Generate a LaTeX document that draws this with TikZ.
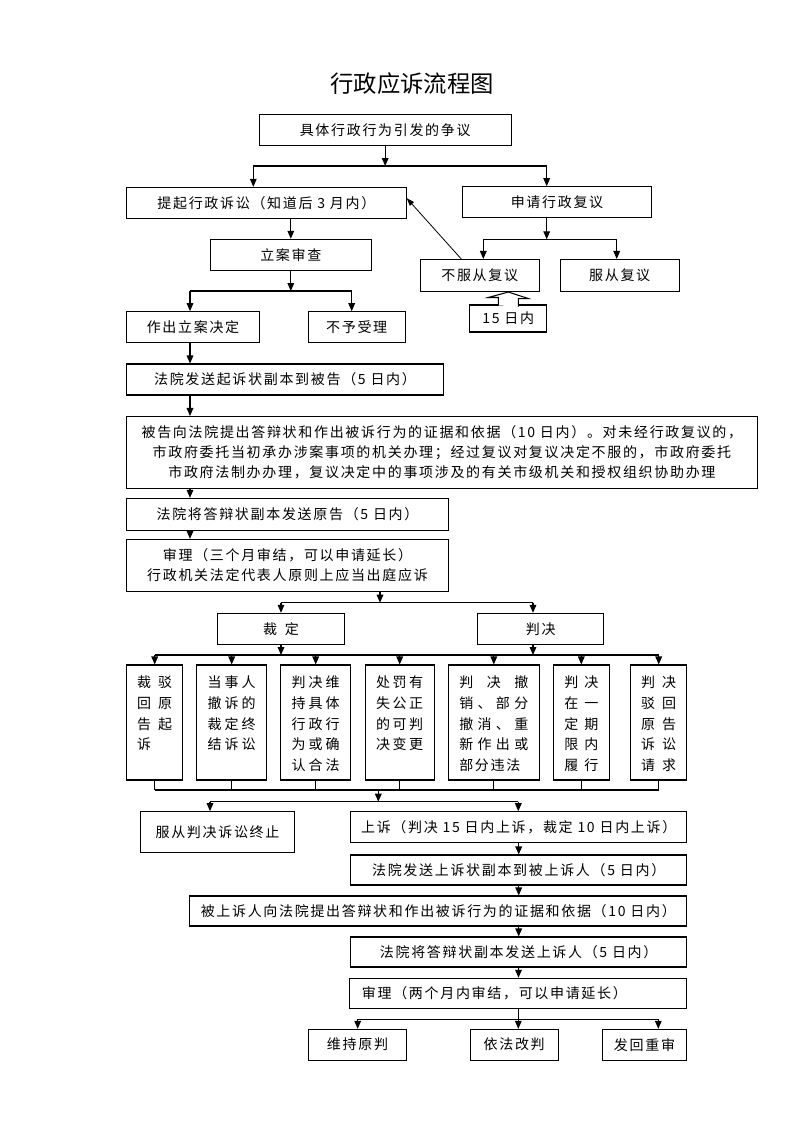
\documentclass[tikz,border=0pt]{standalone}
\usepackage{fontspec}
\usepackage{xcolor}
\setmainfont{Noto Sans CJK SC}[LetterSpace=12]
\newfontfamily\titlefont{Noto Sans CJK SC}
\usetikzlibrary{arrows.meta}

\begin{document}
\begin{tikzpicture}[x=0.75pt, y=-0.75pt,
  box/.style={draw, line width=0.8pt, inner sep=0pt, align=center, font=\fontsize{10.5pt}{15pt}\selectfont},
  sz/.style 2 args={minimum width=#1*0.75pt, minimum height=#2*0.75pt},
  tallbox/.style={draw, line width=0.8pt, inner sep=0pt, minimum height=115*0.75pt},
  talltext/.style={anchor=north, inner sep=0pt, align=left, font=\fontsize{10.5pt}{15.5pt}\selectfont},
  ln/.style={line width=0.8pt},
  arr/.style={line width=0.8pt, -{Triangle[length=6pt,width=5pt]}}]
\useasboundingbox (0,0) rectangle (793,1122);
\node[font=\titlefont\fontsize{17.5pt}{18pt}\selectfont] (title) at (412,84) {行政应诉流程图};

\node[box, sz={251.7}{30.7}] (A) at (385.2,129.7) {具体行政行为引发的争议};
\node[box, sz={279.3}{30.7}] (B) at (266.4,202.7) {提起行政诉讼（知道后 3 月内）};
\node[box, sz={189.4}{31}] (C) at (557,202.2) {申请行政复议};
\node[box, sz={160.5}{31.4}] (D) at (290.8,255) {立案审查};
\node[box, sz={119.3}{32}] (E) at (479.7,275.5) {不服从复议};
\node[box, sz={119.3}{32}] (F) at (619.7,275.5) {服从复议};
\node[box, sz={76.7}{27}] (G) at (508.3,318.5) {15 日内};
\node[box, sz={132.6}{31}] (H) at (193,327.2) {作出立案决定};
\node[box, sz={96.7}{31}] (I) at (356.7,327.2) {不予受理};
\node[box, sz={316.6}{31}] (J) at (285,379.5) {法院发送起诉状副本到被告（5 日内）};
\node[box, sz={630.3}{71.8}] (K) at (441.9,452.4) {被告向法院提出答辩状和作出被诉行为的证据和依据（10 日内）。对未经行政复议的，\\市政府委托当初承办涉案事项的机关办理；经过复议对复议决定不服的，市政府委托\\市政府法制办办理，复议决定中的事项涉及的有关市级机关和授权组织协助办理};
\node[box, sz={321.6}{31.7}] (L) at (287.5,514.2) {法院将答辩状副本发送原告（5 日内）};
\node[box, sz={321.6}{51.7}] (M) at (287.5,565.2) {审理（三个月审结，可以申请延长）\\行政机关法定代表人原则上应当出庭应诉};
\node[box, sz={127.8}{31}] (N) at (281,628.8) {裁\hspace{6pt}定};
\node[box, sz={125.9}{31}] (O) at (540.8,628.8) {判决};

\coordinate (jB) at (253.3,166);
\coordinate (jC) at (546.7,166);
\coordinate (jE) at (483.3,239.3);
\coordinate (jF) at (616.7,239.3);
\coordinate (jH) at (190,291);
\coordinate (jI) at (351.7,291);
\coordinate (jM) at (380,602.7);
\coordinate (jN) at (281,602.7);
\coordinate (jO) at (533,602.7);
\coordinate (j5) at (0,655);
\coordinate (j6) at (0,790);
\coordinate (jS) at (378.3,790);
\coordinate (jQ) at (210,801.7);
\coordinate (jR) at (518.3,801.7);
\coordinate (jW) at (357.7,1019.3);
\coordinate (jY) at (658.3,1019.3);

\foreach \n/\x/\w/\t/\txt in {
  p1/154.7/56/35/{裁\hfill 驳\\回\hfill 原\\告\hfill 起\\诉},
  p2/231.7/70/48/{当\hfill 事\hfill 人\\撤\hfill 诉\hfill 的\\裁\hfill 定\hfill 终\\结\hfill 诉\hfill 讼},
  p3/315.7/70/48/{判\hfill 决\hfill 维\\持\hfill 具\hfill 体\\行\hfill 政\hfill 行\\为\hfill 或\hfill 确\\认\hfill 合\hfill 法},
  p4/399.7/69.3/47/{处\hfill 罚\hfill 有\\失\hfill 公\hfill 正\\的\hfill 可\hfill 判\\决\hfill 变\hfill 更},
  p5/493.8/91/69/{判\hfill 决\hfill 撤\\销\hfill 、\hfill 部\hfill 分\\撤\hfill 消\hfill 、\hfill 重\\新\hfill 作\hfill 出\hfill 或\\部分违法},
  p6/581.3/56/34/{判\hfill 决\\在\hfill 一\\定\hfill 期\\限\hfill 内\\履\hfill 行},
  p7/658.7/56/35/{判\hfill 决\\驳\hfill 回\\原\hfill 告\\诉\hfill 讼\\请\hfill 求}}
{
  \node[tallbox, minimum width=\w*0.75pt] (\n) at (\x,722.5) {};
  \node[talltext, text width=\t*0.75pt] (\n txt) at ([yshift=-8.5pt]\n.north) {\txt};
  \draw[arr] (\n.north |- j5) -- (\n.north);
  \draw[ln] (\n.south) -- (\n.south |- j6);
}

\node[box, sz={153.6}{40.6}] (Q) at (217.5,832) {服从判决诉讼终止};
\node[box, sz={336}{30.6}] (R) at (518.7,827) {上诉（判决 15 日内上诉，裁定 10 日内上诉）};
\node[box, sz={336}{30}] (S) at (518.7,870) {法院发送上诉状副本到被上诉人（5 日内）};
\node[box, sz={496.7}{30}] (T) at (438.3,911) {被上诉人向法院提出答辩状和作出被诉行为的证据和依据（10 日内）};
\node[box, sz={336}{30}] (U) at (518.7,952) {法院将答辩状副本发送上诉人（5 日内）};
\node[box, sz={336.7}{30}, inner xsep=9pt, text width=234.5pt, align=left] (V) at (518.3,993.3) {审理（两个月内审结，可以申请延长）};
\node[box, sz={98.4}{30.7}] (W) at (357.5,1044.7) {维持原判};
\node[box, sz={88.3}{30.7}] (X) at (514.2,1044.7) {依法改判};
\node[box, sz={84.4}{30.7}] (Y) at (644.5,1044.7) {发回重审};

\draw[arr] (A) -- (A |- jB);
\draw[ln] (jB) -- (jC);
\draw[arr] (jB) -- (jB |- B.north);
\draw[arr] (jC) -- (jC |- C.north);
\draw[arr] (B.south -| D) -- (D);
\draw[arr] (jC |- C.south) -- (jC |- jE);
\draw[ln] (jE) -- (jF);
\draw[arr] (jE) -- (jE |- E.north);
\draw[arr] (jF) -- (jF |- F.north);
\draw[line width=0.6pt, -{Triangle[length=6pt,width=4pt]}] ([xshift=31.3pt]E.north west) -- ([yshift=3.5pt]B.east);
\draw[ln, fill=white] ([xshift=-7.5pt, yshift=-0.75pt]G.north) -- ++(0,-8) -- ++(-10,0) -- (G |- E.south) -- ++(20,6.5) -- ++(-10,0) -- ++(0,8);
\draw[arr] (D) -- (D |- jH);
\draw[ln] (jH) -- (jI);
\draw[arr] (jH) -- (jH |- H.north);
\draw[arr] (jI) -- (jI |- I.north);
\draw[arr] (jH |- H.south) -- (jH |- J.north);
\draw[arr] (jH |- J.south) -- (jH |- K.north);
\draw[arr] (jH |- K.south) -- (jH |- L.north);
\draw[arr] (jH |- L.south) -- (jH |- M.north);
\draw[arr] (jM |- M.south) -- (jM);
\draw[ln] (jN) -- (jO);
\draw[arr] (jN) -- (jN |- N.north);
\draw[arr] (jO) -- (jO |- O.north);
\draw[arr] (jN |- N.south) -- (jN |- j5);
\draw[arr] (jO |- O.south) -- (jO |- j5);
\draw[ln] (p1.north |- j5) -- (p7.north |- j5);
\draw[ln] (p1.south |- j6) -- (p7.south |- j6);
\draw[arr] (jS) -- (jS |- jQ);
\draw[ln] (jQ) -- (jR);
\draw[arr] (jQ) -- (jQ |- Q.north);
\draw[arr] (jR) -- (jR |- R.north);
\draw[arr] (R) -- (S);
\draw[arr] (S.south) -- (S.south |- T.north);
\draw[arr] (S.south |- T.south) -- (S.south |- U.north);
\draw[arr] (U) -- (V);
\draw[arr] (V) -- (V |- X.north);
\draw[ln] (jW) -- (jY);
\draw[arr] (jW) -- (jW |- W.north);
\draw[arr] (jY) -- (jY |- Y.north);
\end{tikzpicture}
\end{document}
